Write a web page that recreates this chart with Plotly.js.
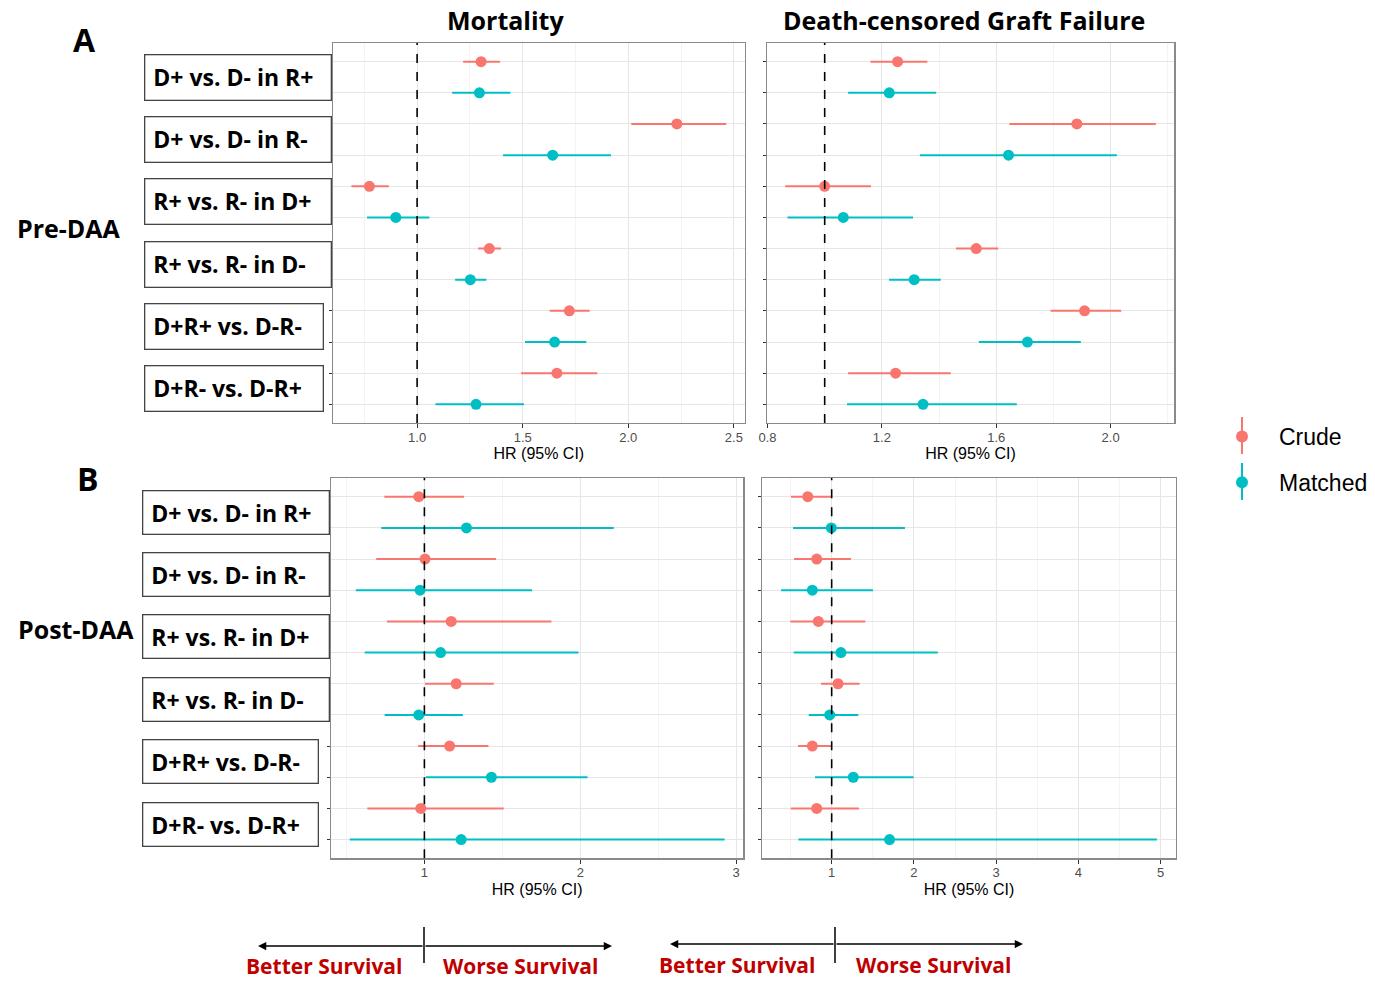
<!DOCTYPE html>
<html><head><meta charset="utf-8">
<script src="https://cdn.plot.ly/plotly-3.0.1.min.js"></script>
<style>html,body{margin:0;padding:0;background:#fff;}#chart{width:1375px;height:982px;}</style>
</head><body><div id="chart"></div>
<script>
// ---------------- DATA ----------------
const categories = ["D+ vs. D- in R+","D+ vs. D- in R-","R+ vs. R- in D+","R+ vs. R- in D-","D+R+ vs. D-R-","D+R- vs. D-R+"];
const seriesNames = ["Crude","Matched"];
const panelTitles = ["Mortality","Death-censored Graft Failure"];
const periodLabels = ["Pre-DAA","Post-DAA"];
const panelLetters = ["A","B"];
const xAxisTitle = "HR (95% CI)";
const refHR = 1;

// Pre-DAA, Mortality
const preMortCrudeHR   = [1.303,2.230,0.774,1.342,1.721,1.662];
const preMortCrudeLo   = [1.218,2.014,0.689,1.289,1.628,1.492];
const preMortCrudeHi   = [1.393,2.464,0.866,1.397,1.817,1.853];
const preMortMatchedHR = [1.295,1.642,0.899,1.252,1.651,1.279];
const preMortMatchedLo = [1.166,1.407,0.763,1.180,1.511,1.087];
const preMortMatchedHi = [1.442,1.918,1.058,1.328,1.801,1.506];
// Pre-DAA, Death-censored graft failure
const preGraftCrudeHR   = [1.255,1.882,1.000,1.530,1.909,1.248];
const preGraftCrudeLo   = [1.160,1.646,0.862,1.459,1.790,1.082];
const preGraftCrudeHi   = [1.359,2.158,1.162,1.607,2.037,1.441];
const preGraftMatchedHR = [1.226,1.643,1.065,1.313,1.709,1.344];
const preGraftMatchedLo = [1.082,1.333,0.870,1.225,1.539,1.078];
const preGraftMatchedHi = [1.390,2.022,1.309,1.406,1.896,1.672];
// Post-DAA, Mortality
const postMortCrudeHR   = [0.964,1.004,1.172,1.204,1.162,0.977];
const postMortCrudeLo   = [0.743,0.691,0.760,1.004,0.960,0.634];
const postMortCrudeHi   = [1.255,1.460,1.815,1.445,1.411,1.509];
const postMortMatchedHR = [1.270,0.972,1.104,0.964,1.430,1.236];
const postMortMatchedLo = [0.723,0.560,0.617,0.745,1.009,0.521];
const postMortMatchedHi = [2.215,1.691,1.989,1.247,2.047,2.926];
// Post-DAA, Death-censored graft failure
const postGraftCrudeHR   = [0.709,0.818,0.838,1.077,0.765,0.818];
const postGraftCrudeLo   = [0.506,0.543,0.498,0.870,0.591,0.502];
const postGraftCrudeHi   = [0.996,1.235,1.409,1.340,0.996,1.332];
const postGraftMatchedHR = [0.996,0.765,1.113,0.976,1.263,1.704];
const postGraftMatchedLo = [0.530,0.385,0.538,0.721,0.798,0.595];
const postGraftMatchedHi = [1.891,1.502,2.291,1.324,1.996,4.955];

// tick labels
const preMortTicks   = ["1.0","1.5","2.0","2.5"];
const preGraftTicks  = ["0.8","1.2","1.6","2.0"];
const postMortTicks  = ["1","2","3"];
const postGraftTicks = ["1","2","3","4","5"];
const survivalLabels = ["Better Survival","Worse Survival"];

// ---------------- STYLE / LAYOUT ----------------
const W = 1375, H = 982;
const fx = p => p / W;
const fy = p => 1 - p / H;
const COL = {Crude: "#F8766D", Matched: "#00BFC4"};
const boxFont = "Open Sans, sans-serif";
const plotFont = "Liberation Sans, Arial, sans-serif";

const panels = [
  {xa:"x",  ya:"y",  crude:[preMortCrudeHR,preMortCrudeLo,preMortCrudeHi],   matched:[preMortMatchedHR,preMortMatchedLo,preMortMatchedHi],   ticks:preMortTicks,  minorStep:0.25, xd:[332.7,745],   yd:[423,43]},
  {xa:"x2", ya:"y2", crude:[preGraftCrudeHR,preGraftCrudeLo,preGraftCrudeHi], matched:[preGraftMatchedHR,preGraftMatchedLo,preGraftMatchedHi], ticks:preGraftTicks, minorStep:0.2,  xd:[766.7,1174.3], yd:[423,43]},
  {xa:"x3", ya:"y3", crude:[postMortCrudeHR,postMortCrudeLo,postMortCrudeHi], matched:[postMortMatchedHR,postMortMatchedLo,postMortMatchedHi], ticks:postMortTicks, minorStep:0.5,  xd:[331,743.3],   yd:[858.3,478]},
  {xa:"x4", ya:"y4", crude:[postGraftCrudeHR,postGraftCrudeLo,postGraftCrudeHi], matched:[postGraftMatchedHR,postGraftMatchedLo,postGraftMatchedHi], ticks:postGraftTicks, minorStep:0.5, xd:[762.3,1175.7], yd:[858.3,478]}
];

const nRows = categories.length * seriesNames.length;
const traces = [];
const layout = {
  width: W, height: H,
  margin: {l:0, r:0, t:0, b:0},
  paper_bgcolor: "#ffffff", plot_bgcolor: "#ffffff",
  font: {family: plotFont, color: "#000"},
  showlegend: true,
  legend: {x: fx(1205), y: fy(415), xanchor: "left", yanchor: "top",
           font: {family: plotFont, size: 23, color: "#000"},
           bgcolor: "rgba(0,0,0,0)", itemwidth: 64, itemsizing: "constant",
           traceorder: "grouped", tracegroupgap: 13},
  shapes: [], annotations: []
};

panels.forEach((p, pi) => {
  const sfx = pi === 0 ? "" : String(pi + 1);
  const all = p.crude[1].concat(p.crude[2], p.matched[1], p.matched[2]);
  const mn = Math.min(...all), mx = Math.max(...all), w = mx - mn;
  const tv = p.ticks.map(Number);
  layout["xaxis" + sfx] = {
    domain: [fx(p.xd[0]), fx(p.xd[1])], anchor: p.ya,
    range: [mn - 0.05 * w, mx + 0.05 * w],
    tickvals: tv, ticktext: p.ticks, ticks: "outside", ticklen: 4, tickcolor: "#333",
    ticklabelstandoff: -2,
    tickfont: {family: plotFont, size: 13, color: "#4d4d4d"},
    showgrid: true, gridcolor: "#e6e6e6", gridwidth: 1,
    minor: {dtick: p.minorStep, tick0: 0, showgrid: true, gridcolor: "#eeeeee", gridwidth: 0.7, ticks: ""},
    showline: true, mirror: true, linecolor: "#8a8a8a", linewidth: 1.2,
    zeroline: false, fixedrange: true, automargin: false,
    title: {text: xAxisTitle, font: {family: plotFont, size: 16, color: "#000"}, standoff: 4}
  };
  layout["yaxis" + sfx] = {
    domain: [fy(p.yd[0]), fy(p.yd[1])], anchor: p.xa,
    range: [nRows + 0.6, 0.4],
    tickvals: Array.from({length: nRows}, (_, k) => k + 1), showticklabels: false,
    ticks: "outside", ticklen: 3, tickcolor: "#333",
    showgrid: true, gridcolor: "#e6e6e6", gridwidth: 1,
    showline: true, mirror: true, linecolor: "#8a8a8a", linewidth: 1.2,
    zeroline: false, fixedrange: true, automargin: false
  };
  seriesNames.forEach((s, si) => {
    const [hr, lo, hi] = si === 0 ? p.crude : p.matched;
    traces.push({
      type: "scatter", mode: "markers", name: s, legendgroup: s,
      showlegend: pi === 0, xaxis: p.xa, yaxis: p.ya,
      x: hr, y: categories.map((c, ci) => ci * seriesNames.length + si + 1),
      marker: {color: COL[s], size: 11},
      error_x: {type: "data", symmetric: false,
                array: hr.map((v, k) => hi[k] - v), arrayminus: hr.map((v, k) => v - lo[k]),
                color: COL[s], thickness: 2, width: 0},
      hoverinfo: "x+name"
    });
  });
  layout.shapes.push({type: "line", xref: p.xa, yref: p.ya + " domain", x0: refHR, x1: refHR, y0: 0, y1: 1,
                      line: {color: "#000", width: 1.6, dash: "dash"}, layer: "above"});
});

// column titles
[[505.5, 20], [964, 20]].forEach((pos, i) => layout.annotations.push({
  text: "<b>" + panelTitles[i] + "</b>", xref: "paper", yref: "paper", x: fx(pos[0]), y: fy(pos[1]),
  xanchor: "center", yanchor: "middle", showarrow: false, font: {family: boxFont, size: 25, color: "#000"}}));
// letters
[[84, 40], [88, 478]].forEach((pos, i) => layout.annotations.push({
  text: "<b>" + panelLetters[i] + "</b>", xref: "paper", yref: "paper", x: fx(pos[0]), y: fy(pos[1]),
  xanchor: "center", yanchor: "middle", showarrow: false, font: {family: boxFont, size: 32, color: "#000"}}));
// period labels
[[15, 228], [16, 629]].forEach((pos, i) => layout.annotations.push({
  text: "<b>" + periodLabels[i] + "</b>", xref: "paper", yref: "paper", x: fx(pos[0]), y: fy(pos[1]),
  xanchor: "left", yanchor: "middle", showarrow: false, font: {family: boxFont, size: 25, color: "#000"}}));

// category boxes
const boxSpecs = [
  {ya: "y",  left: 144.3, rights: [332.7,332.7,332.7,332.7,324,324], h: 46.5},
  {ya: "y3", left: 142.3, rights: [330,330,330,330,319.3,319.3],     h: 45}
];
const bw = 1.3, bpad = 8;
boxSpecs.forEach(b => {
  categories.forEach((c, ci) => {
    layout.annotations.push({
      text: "<b>" + c + "</b>", xref: "paper", yref: b.ya,
      x: fx(b.left), y: ci * seriesNames.length + (seriesNames.length + 1) / 2,
      xanchor: "left", yanchor: "middle", align: "left", valign: "middle",
      width: b.rights[ci] - b.left - 2 * (bw + bpad), height: b.h - 2 * (bw + bpad),
      showarrow: false, bordercolor: "#444", borderwidth: bw, borderpad: bpad, bgcolor: "#fff",
      font: {family: boxFont, size: 23, color: "#000"}
    });
  });
});

// legend glyph vertical bars
[[1242, 417, 454, "Crude"], [1242, 463, 500, "Matched"]].forEach(g => layout.shapes.push({
  type: "line", xref: "paper", yref: "paper", x0: fx(g[0]), x1: fx(g[0]), y0: fy(g[1]), y1: fy(g[2]),
  line: {color: COL[g[3]], width: 2}}));

// bottom survival arrows
const arrowSpecs = [
  {left: 258, center: 424, right: 612, y: 946, tTop: 927, tBot: 963, txt: [324, 520], ty: 966},
  {left: 670, center: 835, right: 1023, y: 944, tTop: 927, tBot: 963, txt: [736.5, 933], ty: 965}
];
arrowSpecs.forEach(a => {
  [a.left, a.right].forEach(end => layout.annotations.push({
    text: "", xref: "paper", yref: "paper", x: fx(end), y: fy(a.y), ax: a.center - end, ay: 0,
    showarrow: true, arrowhead: 2, arrowsize: 1.1, arrowwidth: 1.5, arrowcolor: "#000"}));
  layout.shapes.push({type: "line", xref: "paper", yref: "paper", x0: fx(a.center), x1: fx(a.center),
                      y0: fy(a.tTop), y1: fy(a.tBot), line: {color: "#000", width: 1.5}});
  survivalLabels.forEach((s, i) => layout.annotations.push({
    text: "<b>" + s + "</b>", xref: "paper", yref: "paper", x: fx(a.txt[i]), y: fy(a.ty),
    xanchor: "center", yanchor: "middle", showarrow: false, borderpad: 0,
    font: {family: boxFont, size: 21, color: "#C00000"}}));
});

Plotly.newPlot("chart", traces, layout, {displayModeBar: false, staticPlot: true});
</script>
</body></html>
